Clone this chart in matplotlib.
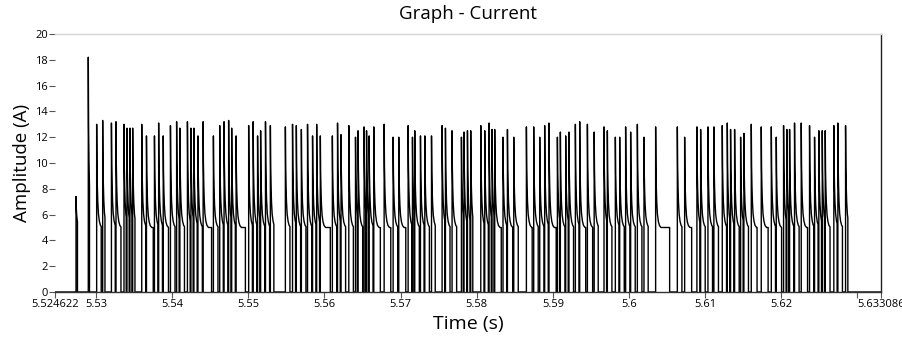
import numpy as np
import matplotlib.pyplot as plt

plt.rcParams['font.family'] = ['Open Sans', 'DejaVu Sans']

# recording window (s)
t_start = 5.524622
t_stop = 5.633086

# pulse onsets, ms after t_start, and the peak current of each pulse (A)
onset_ms = [
    2.76, 4.37, 5.47, 6.26, 7.41, 8.01, 9.06, 9.45, 9.84, 10.20,
    11.39, 12.01, 13.06, 13.61, 14.21, 15.16, 15.97, 16.40, 17.39, 17.85,
    18.24, 18.77, 19.45, 20.80, 21.63, 22.20, 22.80, 23.20, 23.78, 25.43,
    26.02, 26.60, 27.00, 27.64, 28.28, 30.25, 31.19, 31.69, 32.35, 33.16,
    33.82, 34.36, 34.84, 36.42, 37.10, 37.56, 38.58, 39.46, 39.80, 40.59,
    40.91, 41.25, 41.86, 43.22, 44.40, 45.14, 46.37, 46.94, 47.24, 47.99,
    48.56, 49.44, 50.83, 51.27, 52.14, 53.37, 53.71, 54.16, 54.59, 55.91,
    56.43, 57.00, 57.39, 57.74, 58.83, 59.41, 60.24, 61.90, 62.86, 63.65,
    64.30, 64.87, 65.97, 66.36, 67.06, 67.49, 68.33, 68.90, 69.91, 70.80,
    72.09, 72.53, 73.58, 74.15, 74.93, 75.59, 76.47, 77.34, 78.87, 81.72,
    82.68, 84.29, 84.78, 85.74, 86.52, 87.62, 88.28, 88.71, 89.24, 90.03,
    90.46, 91.43, 92.74, 94.06, 94.71, 95.67, 96.10, 96.46, 97.11, 97.99,
    99.08, 99.74, 100.30, 100.75, 101.14, 102.27, 102.80, 103.81,
]
peak_a = [
    7.4, 18.2, 13.0, 13.3, 13.1, 13.2, 13.0, 12.7, 12.7, 12.7,
    13.0, 12.1, 12.1, 13.1, 12.1, 12.9, 13.2, 12.7, 13.2, 12.7,
    12.7, 12.1, 13.2, 12.1, 12.9, 13.2, 13.3, 12.7, 12.1, 12.9,
    13.2, 12.1, 12.5, 13.2, 12.9, 12.8, 13.0, 12.9, 12.6, 13.0,
    12.1, 13.0, 12.1, 12.1, 13.1, 12.2, 12.9, 12.0, 12.5, 12.8,
    12.5, 12.1, 12.8, 13.0, 12.0, 12.0, 12.9, 12.0, 12.5, 12.1,
    12.1, 12.1, 12.9, 12.7, 12.5, 12.0, 12.4, 12.5, 12.5, 12.9,
    12.5, 13.1, 12.6, 12.6, 12.0, 12.6, 12.0, 12.8, 12.8, 12.0,
    12.9, 13.1, 12.0, 12.4, 12.1, 12.4, 13.0, 13.2, 13.0, 12.4,
    12.8, 12.5, 12.0, 12.0, 12.8, 12.4, 13.0, 12.0, 12.8, 12.8,
    12.0, 12.8, 12.6, 12.8, 12.8, 12.9, 13.1, 12.6, 12.6, 12.0,
    12.3, 13.0, 12.8, 12.8, 12.0, 12.9, 12.6, 12.6, 13.1, 13.1,
    12.9, 12.0, 12.5, 12.5, 12.5, 12.9, 13.1, 12.9,
]

# pulses that sit on the 5 A level before switching off: index -> off time (ms)
held_off_ms = {
    0: 2.95, 1: 4.53, 3: 6.56, 5: 8.66, 9: 10.50, 11: 12.90, 14: 14.90,
    22: 20.56, 28: 25.00, 34: 28.74, 42: 36.15, 52: 42.72, 53: 44.09,
    55: 46.06, 61: 49.93, 68: 54.86, 73: 58.60, 75: 60.10, 76: 60.83,
    77: 62.66, 78: 63.45, 81: 65.81, 87: 69.69, 88: 70.60, 89: 71.33,
    97: 77.89, 98: 80.71, 100: 83.60, 111: 92.19, 112: 93.64, 114: 95.41,
    119: 98.82, 124: 101.77, 127: 104.11,
}

# fall from the peak towards the 5 A level (fraction of peak - 5 A)
decay_ms = [0.0, 0.04, 0.09, 0.15, 0.24, 0.36, 0.50, 0.70]
decay_frac = [1.0, 0.60, 0.40, 0.25, 0.13, 0.06, 0.02, 0.0]
level_a = 5.0

t_ms = [0.0]
amp = [0.0]
for i, (on, pk) in enumerate(zip(onset_ms, peak_a)):
    if i in held_off_ms:
        off = held_off_ms[i]
    else:
        nxt = onset_ms[i + 1] if i + 1 < len(onset_ms) else on + 0.6
        off = min(nxt - 0.1, on + 0.6)
    t_ms.append(on)
    amp.append(0.0)
    for d, f in zip(decay_ms, decay_frac):
        if on + d < off:
            t_ms.append(on + d)
            amp.append(level_a + (pk - level_a) * f)
    f_off = np.interp(off - on, decay_ms, decay_frac)
    t_ms += [off, off]
    amp += [level_a + (pk - level_a) * f_off, 0.0]
t_ms.append((t_stop - t_start) * 1000)
amp.append(0.0)

t = t_start + np.array(t_ms) / 1000

fig = plt.figure(figsize=(9.03, 3.37), dpi=100)
ax = fig.add_axes([55 / 903, 45 / 337, 826 / 903, 258 / 337])
ax.plot(t, amp, color='black', lw=1.0)

ax.set_xlim(t_start, t_stop)
ax.set_ylim(0, 20)
xticks = [t_start, 5.53, 5.54, 5.55, 5.56, 5.57, 5.58, 5.59, 5.60, 5.61, 5.62, 5.63, t_stop]
xlabels = ['5.524622', '5.53', '5.54', '5.55', '5.56', '5.57', '5.58', '5.59',
           '5.6', '5.61', '5.62', '', '5.633086']
ax.set_xticks(xticks)
ax.set_xticklabels(xlabels)
ax.set_yticks(range(0, 21, 2))

ax.spines['left'].set_visible(False)
ax.spines['top'].set_color('#d4d4d4')
ax.spines['right'].set_color('#222222')
ax.spines['bottom'].set_color('#333333')
for s in ('top', 'right', 'bottom'):
    ax.spines[s].set_linewidth(1.0)

ax.tick_params(axis='both', labelsize=8, length=4, width=0.8, color='#555555', pad=1)

ax.set_title('Graph - Current', fontsize=13.5, pad=11)
ax.set_xlabel('Time (s)', fontsize=14, labelpad=4)
ax.set_ylabel('Amplitude (A)', fontsize=13.5, labelpad=3)

fig.savefig('out.png', dpi=100)
